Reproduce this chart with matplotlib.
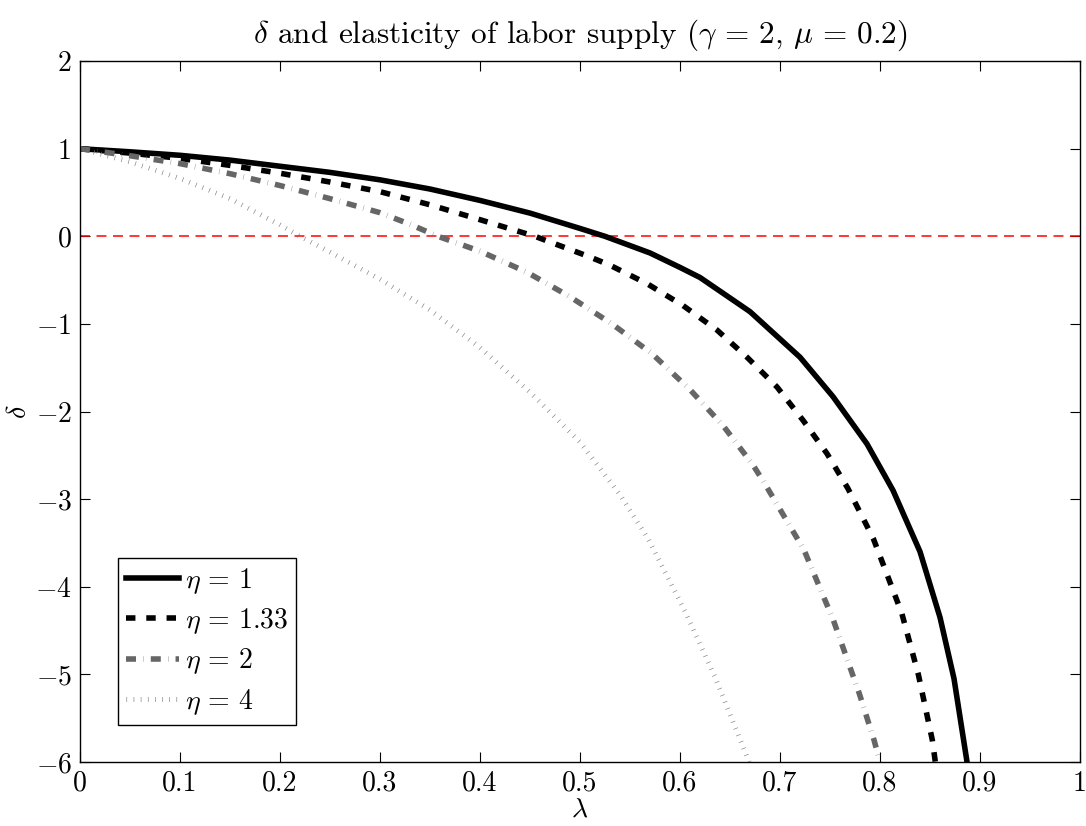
import matplotlib
matplotlib.use('Agg')
import matplotlib.pyplot as plt

# values
lam_eta1 = [0, 0.05, 0.1, 0.15, 0.2, 0.25, 0.3, 0.35, 0.4, 0.45, 0.5, 0.525,
            0.57, 0.6, 0.62, 0.67, 0.72, 0.753, 0.787, 0.813, 0.84, 0.86,
            0.874, 0.887]
delta_eta1 = [1.0, 0.965, 0.925, 0.87, 0.80, 0.73, 0.645, 0.54, 0.41, 0.265,
              0.09, 0.0, -0.19, -0.355, -0.47, -0.86, -1.38, -1.83, -2.37,
              -2.9, -3.6, -4.35, -5.05, -6.0]

lam_eta133 = [0, 0.05, 0.1, 0.15, 0.2, 0.25, 0.3, 0.35, 0.4, 0.455, 0.51,
              0.53, 0.567, 0.603, 0.637, 0.667, 0.697, 0.723, 0.747, 0.768,
              0.7933, 0.8217, 0.8383, 0.8523, 0.8553]
delta_eta133 = [1.0, 0.95, 0.89, 0.81, 0.72, 0.62, 0.51, 0.36, 0.19, 0.0,
                -0.236, -0.33, -0.54, -0.79, -1.07, -1.38, -1.72, -2.1, -2.48,
                -2.88, -3.45, -4.3, -5.0, -5.75, -6.0]

lam_eta2 = [0, 0.05, 0.1, 0.15, 0.2, 0.25, 0.3, 0.33, 0.358, 0.4, 0.447,
            0.49, 0.532, 0.572, 0.61, 0.643, 0.673, 0.6867, 0.724, 0.7533,
            0.7793, 0.794, 0.80]
delta_eta2 = [1.0, 0.92, 0.83, 0.715, 0.58, 0.43, 0.27, 0.137, 0.0, -0.17,
              -0.41, -0.69, -1.0, -1.34, -1.75, -2.16, -2.61, -2.86, -3.58,
              -4.38, -5.22, -5.75, -6.0]

lam_eta4 = [0, 0.05, 0.1, 0.15, 0.2, 0.22, 0.25, 0.3, 0.35, 0.4, 0.45, 0.5,
            0.54, 0.568, 0.605, 0.635, 0.667, 0.669]
delta_eta4 = [1.0, 0.85, 0.66, 0.43, 0.13, 0.0, -0.18, -0.49, -0.84, -1.27,
              -1.78, -2.35, -2.95, -3.45, -4.28, -5.03, -5.94, -6.0]

labels = [r'$\eta\,=\,1$', r'$\eta\,=\,1.33$', r'$\eta\,=\,2$',
          r'$\eta\,=\,4$']
x_ticks = [0, 0.1, 0.2, 0.3, 0.4, 0.5, 0.6, 0.7, 0.8, 0.9, 1]
x_tick_labels = ['0', '0.1', '0.2', '0.3', '0.4', '0.5', '0.6', '0.7',
                 '0.8', '0.9', '1']
y_ticks = [-6, -5, -4, -3, -2, -1, 0, 1, 2]

plt.rcParams['font.family'] = 'serif'
plt.rcParams['font.serif'] = ['cmr10']
plt.rcParams['mathtext.fontset'] = 'cm'
plt.rcParams['axes.formatter.use_mathtext'] = True

fig = plt.figure(figsize=(10.86, 8.26), dpi=100)
ax = fig.add_axes([0.0737, 0.0775, 0.9208, 0.8485])

ax.axhline(0, color='red', lw=1.1, linestyle=(0, (6.5, 4.3)))

ax.plot(lam_eta1, delta_eta1, color='black', lw=4, label=labels[0])
ax.plot(lam_eta133, delta_eta133, color='black', lw=4,
        linestyle=(0, (1.7, 1.95)), dash_capstyle='butt', label=labels[1])
ax.plot(lam_eta2, delta_eta2, color=(0.4, 0.4, 0.4), lw=4,
        linestyle=(0, (1.8, 1.3, 0.06, 1.3)), dash_capstyle='butt',
        label=labels[2])
ax.plot(lam_eta4, delta_eta4, color=(0.45, 0.45, 0.45), lw=3.5,
        linestyle=(0, (0.12, 1.35)), dash_capstyle='butt', label=labels[3])

ax.set_xlim(0, 1)
ax.set_ylim(-6, 2)
ax.set_xticks(x_ticks)
ax.set_xticklabels(x_tick_labels)
ax.set_yticks(y_ticks)
ax.set_yticklabels([r'$%d$' % v if v < 0 else str(v) for v in y_ticks])
ax.tick_params(direction='in', length=7, width=0.8, top=True, right=True,
               labelsize=20, pad=6)
for sp in ax.spines.values():
    sp.set_linewidth(1.0)

ax.set_title(r'$\delta$ and elasticity of labor supply ($\gamma\,=\,2$, $\mu\,=\,0.2$)',
             fontsize=22.5, pad=13)
ax.set_xlabel(r'$\lambda$', fontsize=20, labelpad=0)
ax.set_ylabel(r'$\delta$', fontsize=20, labelpad=2)

leg = ax.legend(loc='lower left', bbox_to_anchor=(0.038, 0.053),
                borderaxespad=0, fontsize=20, handlelength=1.9,
                handletextpad=0.2, labelspacing=0.38, fancybox=False,
                framealpha=1, edgecolor='black', borderpad=0.3)
leg.get_frame().set_linewidth(1.0)

fig.savefig('out.png', dpi=100)
